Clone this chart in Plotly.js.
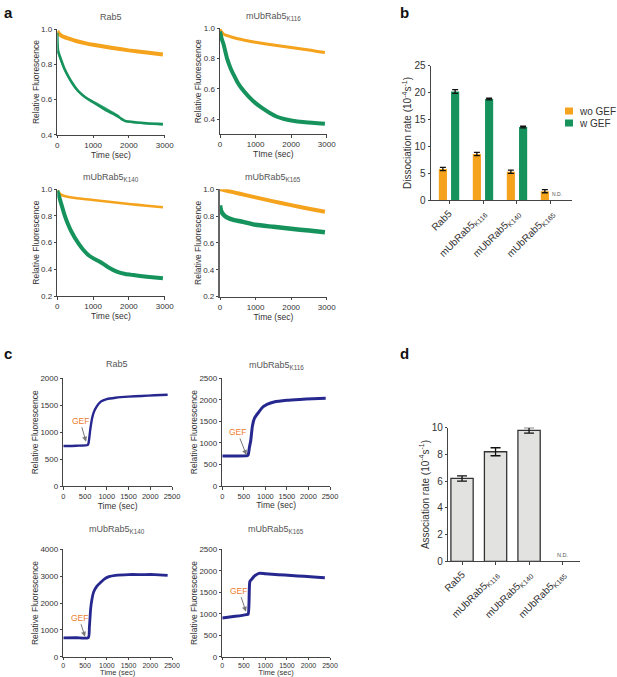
<!DOCTYPE html>
<html>
<head>
<meta charset="utf-8">
<script src="https://cdn.plot.ly/plotly-3.0.1.min.js"></script>
<style>html,body{margin:0;padding:0;background:#fff;overflow:hidden;}#chart{width:617px;height:677px;}</style>
</head>
<body>
<div id="chart"></div>
<script>
// ---------------- DATA ----------------
// Panel a: GDP dissociation traces (time in sec, relative fluorescence)
const aRab5WoTime   = [0, 50, 100, 200, 300, 500, 800, 1000, 1500, 2000, 2500, 2950];
const aRab5WoRF     = [0.99, 0.975, 0.965, 0.955, 0.948, 0.935, 0.92, 0.912, 0.895, 0.88, 0.868, 0.857];
const aRab5WTime    = [0, 20, 100, 200, 300, 400, 500, 600, 800, 1000, 1200, 1400, 1600, 1800, 1900, 2000, 2500, 2950];
const aRab5WRF      = [0.98, 0.88, 0.83, 0.775, 0.735, 0.70, 0.67, 0.645, 0.61, 0.585, 0.56, 0.535, 0.515, 0.49, 0.478, 0.475, 0.465, 0.46];
const aRab5W2Time   = [0, 100, 200, 300, 500, 800, 1000, 1200, 1400, 1700, 1800, 2000, 2500, 2950];
const aRab5W2RF     = [0.875, 0.82, 0.77, 0.73, 0.665, 0.612, 0.59, 0.568, 0.545, 0.51, 0.485, 0.472, 0.462, 0.456];

const aK116WoTime   = [0, 50, 100, 200, 300, 500, 800, 1000, 1500, 2000, 2500, 2950];
const aK116WoRF     = [0.995, 0.975, 0.962, 0.952, 0.945, 0.932, 0.917, 0.908, 0.89, 0.873, 0.857, 0.84];
const aK116WTime    = [0, 50, 100, 200, 300, 400, 500, 600, 800, 1000, 1200, 1400, 1600, 1800, 2000, 2400, 2950];
const aK116WRF      = [0.98, 0.93, 0.895, 0.80, 0.735, 0.685, 0.64, 0.605, 0.55, 0.505, 0.47, 0.44, 0.415, 0.40, 0.39, 0.378, 0.368];

const aK140WoTime   = [0, 100, 200, 500, 1000, 1500, 2000, 2500, 2950];
const aK140WoRF     = [0.99, 0.96, 0.95, 0.935, 0.92, 0.905, 0.89, 0.877, 0.865];
const aK140WTime    = [0, 100, 200, 260, 400, 600, 730, 900, 1200, 1400, 1660, 1900, 2120, 2500, 2950];
const aK140WRF      = [0.99, 0.90, 0.81, 0.765, 0.68, 0.59, 0.545, 0.50, 0.455, 0.42, 0.383, 0.365, 0.357, 0.345, 0.333];

const aK165WoTime   = [0, 100, 500, 1000, 1500, 2000, 2500, 2950];
const aK165WoRF     = [1.0, 0.995, 0.97, 0.94, 0.91, 0.882, 0.855, 0.832];
const aK165WTime    = [0, 30, 100, 200, 400, 600, 1000, 1500, 2000, 2500, 2950];
const aK165WRF      = [0.88, 0.84, 0.81, 0.79, 0.77, 0.76, 0.735, 0.72, 0.705, 0.692, 0.68];

// Panel b: dissociation rates (10^-4 s^-1)
const bCategories   = ['Rab5', 'mUbRab5<sub>K116</sub>', 'mUbRab5<sub>K140</sub>', 'mUbRab5<sub>K165</sub>'];
const bSeriesNames  = ['wo GEF', 'w GEF'];
const bWoGEF        = [5.8, 8.6, 5.3, 1.7];
const bWoGEFErr     = [0.3, 0.3, 0.3, 0.3];
const bWGEF         = [20.2, 18.8, 13.6, null];
const bWGEFErr      = [0.35, 0.15, 0.15, 0];

// Panel c: nucleotide association traces
const cRab5Time     = [0, 300, 560, 580, 620, 660, 700, 770, 850, 920, 1000, 1200, 1500, 1800, 2100, 2400];
const cRab5RF       = [745, 752, 765, 800, 1050, 1250, 1370, 1480, 1560, 1590, 1615, 1640, 1660, 1672, 1685, 1695];
const cK116Time     = [0, 300, 580, 600, 630, 660, 700, 750, 850, 950, 1050, 1200, 1500, 1800, 2100, 2400];
const cK116RF       = [695, 698, 705, 720, 900, 1050, 1400, 1580, 1720, 1840, 1900, 1950, 1990, 2010, 2025, 2035];
const cK140Time     = [0, 300, 575, 600, 630, 660, 700, 770, 850, 950, 1050, 1200, 1500, 1800, 2100, 2400];
const cK140RF       = [700, 705, 710, 1100, 1800, 2150, 2420, 2620, 2750, 2900, 2980, 3030, 3060, 3060, 3060, 3030];
const cK165Time     = [0, 300, 560, 600, 640, 680, 750, 850, 1000, 1300, 1600, 1900, 2200, 2380];
const cK165RF       = [900, 940, 980, 990, 1750, 1800, 1880, 1940, 1930, 1910, 1890, 1870, 1850, 1840];

// Panel d: association rates (10^-4 s^-1)
const dCategories   = ['Rab5', 'mUbRab5<sub>K116</sub>', 'mUbRab5<sub>K140</sub>', 'mUbRab5<sub>K165</sub>'];
const dRate         = [6.2, 8.2, 9.8, null];
const dRateErr      = [0.2, 0.3, 0.2, 0];

// ---------------- STYLE ----------------
const W = 617, H = 677;
const ORANGE = '#F5A31C', GREEN = '#16935C', BLUE = '#27288F';
const FONT = 'Liberation Sans, Arial, sans-serif';
const TXT = '#333';

function xd(p0, p1) { return [p0 / W, p1 / W]; }
function yd(top, bottom) { return [1 - bottom / H, 1 - top / H]; }

const base = {
  showline: true, linecolor: '#444', linewidth: 1, mirror: false,
  ticks: 'outside', ticklen: 2.5, tickwidth: 1, tickcolor: '#444',
  showgrid: false, zeroline: false, fixedrange: true, automargin: false,
  tickfont: {family: FONT, size: 8, color: TXT}
};
function mk(o) { return Object.assign({}, base, o); }

const timeFont = {family: FONT, size: 8.5, color: TXT};
const timeTitle = {text: 'Time (sec)', font: timeFont, standoff: 1};
const rfTitle = {text: 'Relative Fluorescence', font: {family: FONT, size: 8.5, color: TXT}, standoff: 0};
const cxFont = {family: FONT, size: 7.5, color: TXT};
const cxFontLow = {family: FONT, size: 7, color: TXT};
const timeTitleLow = {text: 'Time (sec)', font: {family: FONT, size: 7.5, color: TXT}, standoff: 0.5};

const layout = {
  width: W, height: H, margin: {l: 0, r: 0, t: 0, b: 0, autoexpand: false},
  paper_bgcolor: '#fff', plot_bgcolor: 'rgba(0,0,0,0)',
  font: {family: FONT, color: TXT},
  showlegend: false,
  // panel a
  xaxis:  mk({domain: xd(57.3, 164.7), range: [0, 3000], tickvals: [0, 1000, 2000, 3000], anchor: 'y',  title: timeTitle}),
  yaxis:  mk({domain: yd(29.3, 134.7), range: [0.4, 1.0], tickvals: [0.4, 0.6, 0.8, 1.0], tickformat: '.1f', anchor: 'x', title: rfTitle}),
  xaxis2: mk({domain: xd(220, 326.7), range: [0, 3000], tickvals: [0, 1000, 2000, 3000], anchor: 'y2', title: {text: 'TIme (sec)', font: timeFont, standoff: 1}}),
  yaxis2: mk({domain: yd(28.4, 134.1), range: [0.3, 1.0], tickvals: [0.4, 0.6, 0.8, 1.0], tickformat: '.1f', anchor: 'x2', title: rfTitle}),
  xaxis3: mk({domain: xd(57.3, 164.7), range: [0, 3000], tickvals: [0, 1000, 2000, 3000], anchor: 'y3', title: timeTitle}),
  yaxis3: mk({domain: yd(189.3, 296), range: [0.2, 1.0], tickvals: [0.2, 0.4, 0.6, 0.8, 1.0], tickformat: '.1f', anchor: 'x3', title: rfTitle}),
  xaxis4: mk({domain: xd(220, 326.7), range: [0, 3000], tickvals: [0, 1000, 2000, 3000], anchor: 'y4', title: timeTitle}),
  yaxis4: mk({domain: yd(189.3, 296.5), range: [0.2, 1.0], tickvals: [0.2, 0.4, 0.6, 0.8, 1.0], tickformat: '.1f', anchor: 'x4', title: rfTitle, linewidth: 1.6, linecolor: '#666'}),
  // panel b
  xaxis5: mk({domain: xd(431, 571.7), type: 'category', range: [-0.53, 3.61], anchor: 'y5', tickangle: -45,
              tickfont: {family: FONT, size: 10, color: TXT}}),
  yaxis5: mk({domain: yd(65.7, 200.3), range: [0, 25], dtick: 5, anchor: 'x5', tickfont: {family: FONT, size: 10, color: TXT},
              title: {text: 'Dissociation rate (10<sup>-4</sup>s<sup>-1</sup>)', font: {family: FONT, size: 10, color: TXT}, standoff: 0}}),
  // panel c
  xaxis6: mk({domain: xd(63.3, 172), range: [0, 2500], dtick: 500, anchor: 'y6', title: timeTitle, tickfont: cxFont}),
  yaxis6: mk({domain: yd(378.3, 486.3), range: [0, 2000], dtick: 500, anchor: 'x6', title: rfTitle}),
  xaxis7: mk({domain: xd(222.3, 330), range: [0, 2500], dtick: 500, anchor: 'y7', title: timeTitle, tickfont: cxFont}),
  yaxis7: mk({domain: yd(378.3, 486), range: [0, 2500], dtick: 500, anchor: 'x7', title: rfTitle}),
  xaxis8: mk({domain: xd(63.3, 172), range: [0, 2500], dtick: 500, anchor: 'y8', title: timeTitleLow, tickfont: cxFontLow, ticklen: 2}),
  yaxis8: mk({domain: yd(549.3, 656.7), range: [0, 4000], dtick: 1000, anchor: 'x8', title: rfTitle}),
  xaxis9: mk({domain: xd(222.3, 330), range: [0, 2500], dtick: 500, anchor: 'y9', title: timeTitleLow, tickfont: cxFontLow, ticklen: 2}),
  yaxis9: mk({domain: yd(549.3, 656.7), range: [0, 2500], dtick: 500, anchor: 'x9', title: rfTitle}),
  // panel d
  xaxis10: mk({domain: xd(448.3, 580), type: 'category', range: [-0.41, 3.52], anchor: 'y10', tickangle: -45,
               tickfont: {family: FONT, size: 10, color: TXT}}),
  yaxis10: mk({domain: yd(427.7, 561.3), range: [0, 10], dtick: 2, anchor: 'x10', tickfont: {family: FONT, size: 10, color: TXT},
               title: {text: 'Association rate (10<sup>-4</sup>s<sup>-1</sup>)', font: {family: FONT, size: 10, color: TXT}, standoff: 0}}),
  annotations: [],
  shapes: []
};

// panel letters
[['a', 8, 12], ['b', 404, 12], ['c', 8, 353], ['d', 404, 353]].forEach(([t, x, y]) => {
  layout.annotations.push({text: '<b>' + t + '</b>', x: x / W, y: 1 - y / H, xref: 'paper', yref: 'paper',
    xanchor: 'center', yanchor: 'middle', showarrow: false, font: {family: FONT, size: 15, color: '#111'}});
});
// subplot titles
[['Rab5', 111, 17], ['mUbRab5<sub>K116</sub>', 273, 17], ['mUbRab5<sub>K140</sub>', 111, 177], ['mUbRab5<sub>K165</sub>', 273, 177],
 ['Rab5', 117, 364], ['mUbRab5<sub>K116</sub>', 276, 366], ['mUbRab5<sub>K140</sub>', 117, 529], ['mUbRab5<sub>K165</sub>', 276, 529]
].forEach(([t, x, y]) => {
  layout.annotations.push({text: t, x: x / W, y: 1 - y / H, xref: 'paper', yref: 'paper',
    xanchor: 'center', yanchor: 'middle', showarrow: false, font: {family: FONT, size: 9, color: '#555'}});
});
// GEF arrows
[['x6', 'y6', 522, 826, -6, -21], ['x7', 'y7', 560, 720, -9, -23], ['x8', 'y8', 499, 745, -6, -19], ['x9', 'y9', 550, 1047, -7, -21]
].forEach(([xr, yr, x, y, ax, ay]) => {
  layout.annotations.push({text: 'GEF', x: x, y: y, xref: xr, yref: yr, ax: ax, ay: ay, showarrow: true,
    arrowhead: 2, arrowsize: 1, arrowwidth: 1, arrowcolor: '#777', standoff: 0,
    font: {family: FONT, size: 8.5, color: '#EE7C2C'}});
});
// N.D. labels
layout.annotations.push({text: 'N.D.', x: 3.18, y: 0, xref: 'x5', yref: 'y5', yanchor: 'bottom', yshift: 1, showarrow: false,
  font: {family: FONT, size: 5, color: '#555'}});
layout.annotations.push({text: 'N.D.', x: 3, y: 0, xref: 'x10', yref: 'y10', yanchor: 'bottom', yshift: 1, showarrow: false,
  font: {family: FONT, size: 5.5, color: '#555'}});
// compact legend for panel b (swatches + labels)
[[bSeriesNames[0], ORANGE, 111], [bSeriesNames[1], GREEN, 123]].forEach(([t, c, y]) => {
  layout.shapes.push({type: 'rect', xref: 'paper', yref: 'paper', x0: 565 / W, x1: 573 / W,
    y0: 1 - (y + 3.5) / H, y1: 1 - (y - 3.5) / H, fillcolor: c, line: {width: 0}});
  layout.annotations.push({text: t, x: 577 / W, y: 1 - y / H, xref: 'paper', yref: 'paper', xanchor: 'left', yanchor: 'middle',
    showarrow: false, font: {family: FONT, size: 10, color: TXT}});
});

// ---------------- TRACES ----------------
function line(x, y, color, width, xa, ya, opacity) {
  return {type: 'scatter', mode: 'lines', x: x, y: y, xaxis: xa, yaxis: ya, showlegend: false, hoverinfo: 'skip',
          line: {color: color, width: width, shape: 'spline', smoothing: 0.6}, opacity: opacity || 1};
}
const traces = [
  line(aRab5WoTime, aRab5WoRF, ORANGE, 4, 'x', 'y'),
  line(aRab5W2Time, aRab5W2RF, '#3BAA78', 1.5, 'x', 'y'),
  line(aRab5WTime, aRab5WRF, GREEN, 2.6, 'x', 'y'),
  line(aK116WoTime, aK116WoRF, ORANGE, 3, 'x2', 'y2'),
  line(aK116WTime, aK116WRF, GREEN, 4, 'x2', 'y2'),
  line(aK140WoTime, aK140WoRF, ORANGE, 2.6, 'x3', 'y3'),
  line(aK140WTime, aK140WRF, GREEN, 4, 'x3', 'y3'),
  line(aK165WoTime, aK165WoRF, ORANGE, 4, 'x4', 'y4'),
  line(aK165WTime, aK165WRF, GREEN, 4.5, 'x4', 'y4'),
  line(cRab5Time, cRab5RF, BLUE, 2.4, 'x6', 'y6'),
  line(cK116Time, cK116RF, BLUE, 3, 'x7', 'y7'),
  line(cK140Time, cK140RF, BLUE, 2.8, 'x8', 'y8'),
  line(cK165Time, cK165RF, BLUE, 3, 'x9', 'y9'),
  {type: 'bar', name: bSeriesNames[0], x: bCategories, y: bWoGEF, xaxis: 'x5', yaxis: 'y5', offset: -0.30, width: 0.24,
   marker: {color: ORANGE, line: {width: 0}}, showlegend: false,
   error_y: {type: 'data', array: bWoGEFErr, visible: true, color: '#111', thickness: 1.3, width: 3}},
  {type: 'bar', name: bSeriesNames[1], x: bCategories, y: bWGEF, xaxis: 'x5', yaxis: 'y5', offset: 0.06, width: 0.24,
   marker: {color: GREEN, line: {width: 0}}, showlegend: false,
   error_y: {type: 'data', array: bWGEFErr, visible: true, color: '#111', thickness: 1.3, width: 3}},
  {type: 'bar', name: 'rate', x: dCategories, y: dRate, xaxis: 'x10', yaxis: 'y10', width: 0.665, showlegend: false,
   marker: {color: '#E2E3E1', line: {color: '#333', width: 1.3}},
   error_y: {type: 'data', array: dRateErr, visible: true, color: '#111', thickness: 1.3, width: 5}}
];

Plotly.newPlot('chart', traces, layout, {staticPlot: true, displayModeBar: false});
</script>
</body>
</html>
